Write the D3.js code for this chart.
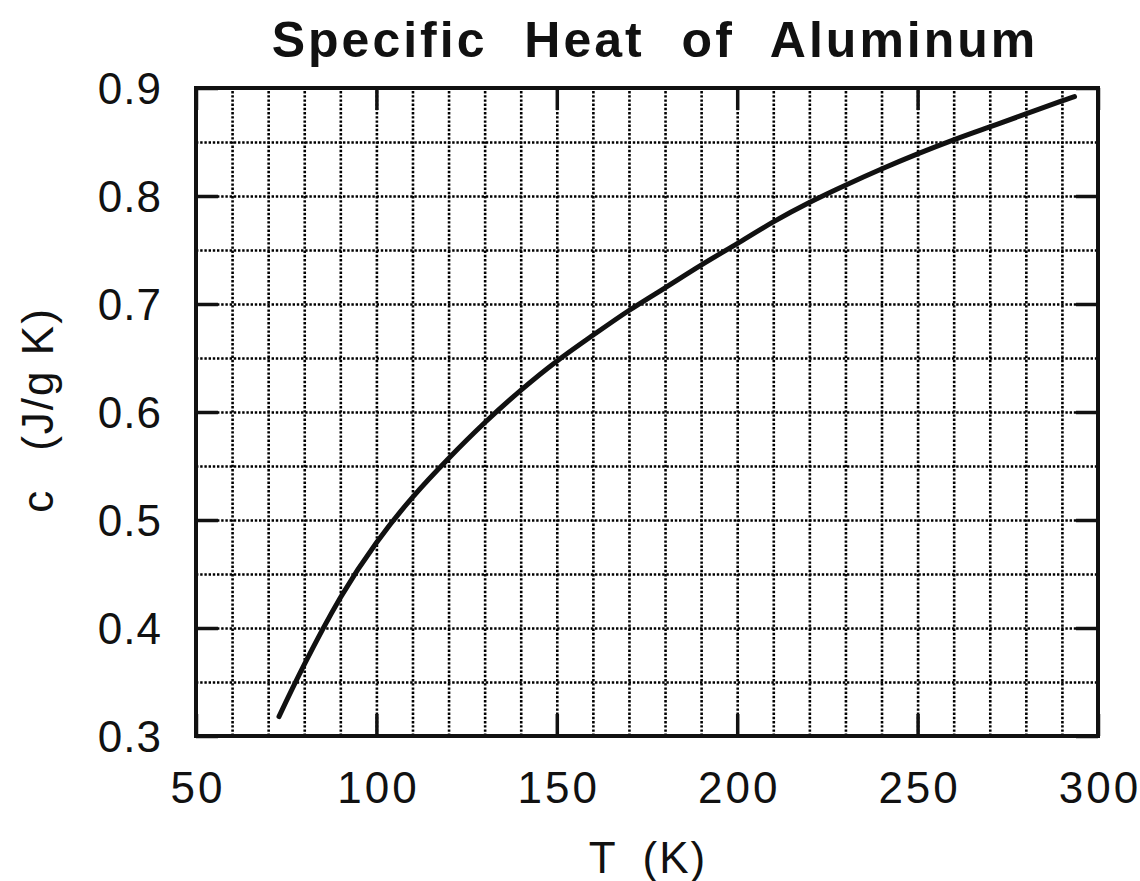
<!DOCTYPE html>
<html>
<head>
<meta charset="utf-8">
<script src="https://cdn.jsdelivr.net/npm/d3@7"></script>
<style>
  html, body { margin: 0; padding: 0; background: #fff; }
  svg { display: block; }
  text { font-family: "Liberation Sans", Arial, Helvetica, sans-serif; fill: #111; }
</style>
</head>
<body>
<svg id="chart" width="1140" height="881"></svg>
<script>
// ---- data ----
const temperatureK = [73, 80, 90, 100, 110, 120, 130, 140, 150, 160, 170, 180, 190, 200, 210, 220, 230, 240, 250, 260, 270, 280, 290, 293.5];
const specificHeat = [0.318, 0.366, 0.428, 0.479, 0.521, 0.557, 0.590, 0.620, 0.647, 0.671, 0.694, 0.715, 0.736, 0.756, 0.776, 0.794, 0.810, 0.825, 0.839, 0.852, 0.864, 0.876, 0.888, 0.892];
const xTickLabels = [50, 100, 150, 200, 250, 300];
const yTickLabels = [0.3, 0.4, 0.5, 0.6, 0.7, 0.8, 0.9];
const xGrid = d3.range(60, 300, 10);
const yGrid = d3.range(7, 18).map(i => i * 0.05);
const titleText = "Specific Heat of Aluminum";
const xTitle = ["T", "(K)"];
const yTitle = ["c", "(J/g K)"];

// ---- layout ----
const svg = d3.select("#chart");
const pLeft = 196, pRight = 1098, pTop = 88, pBottom = 736;
const W = pRight - pLeft, H = pBottom - pTop;
const x = d3.scaleLinear().domain([50, 300]).range([pLeft, pRight]);
const y = d3.scaleLinear().domain([0.3, 0.9]).range([pBottom, pTop]);

// dotted grid
const gx = svg.append("g").attr("transform", `translate(0,${pBottom})`)
  .call(d3.axisBottom(x).tickValues(xGrid).tickSize(-H).tickFormat(""));
const gy = svg.append("g").attr("transform", `translate(${pLeft},0)`)
  .call(d3.axisLeft(y).tickValues(yGrid).tickSize(-W).tickFormat(""));
[gx, gy].forEach(g => {
  g.select(".domain").remove();
  g.selectAll(".tick line").attr("stroke", "#000").attr("stroke-width", 2.6).attr("stroke-dasharray", "2.4,1.8");
});

// major inward ticks
const tickLen = 22;
const majors = [
  svg.append("g").attr("transform", `translate(0,${pBottom})`).call(d3.axisBottom(x).tickValues(xTickLabels).tickSize(-tickLen).tickFormat("")),
  svg.append("g").attr("transform", `translate(0,${pTop})`).call(d3.axisTop(x).tickValues(xTickLabels).tickSize(-tickLen).tickFormat("")),
  svg.append("g").attr("transform", `translate(${pLeft},0)`).call(d3.axisLeft(y).tickValues(yTickLabels).tickSize(-tickLen).tickFormat("")),
  svg.append("g").attr("transform", `translate(${pRight},0)`).call(d3.axisRight(y).tickValues(yTickLabels).tickSize(-tickLen).tickFormat(""))
];
majors.forEach(g => {
  g.select(".domain").remove();
  g.selectAll(".tick line").attr("stroke", "#111").attr("stroke-width", 3.5);
});

// frame
svg.append("rect").attr("x", pLeft).attr("y", pTop).attr("width", W).attr("height", H)
  .attr("fill", "none").attr("stroke", "#111").attr("stroke-width", 4);

// tick labels
const xl = svg.append("g").attr("transform", `translate(0,${pBottom})`)
  .call(d3.axisBottom(x).tickValues(xTickLabels).tickSize(0).tickPadding(36).tickFormat(d3.format("d")));
xl.select(".domain").remove();
xl.selectAll("text").attr("font-size", 44).attr("letter-spacing", 3).attr("dx", 1.5)
  .style("font-family", "'Liberation Sans', Arial, sans-serif").attr("fill", "#111");

const yl = svg.append("g").attr("transform", `translate(${pLeft},0)`)
  .call(d3.axisLeft(y).tickValues(yTickLabels).tickSize(0).tickPadding(34).tickFormat(d3.format(".1f")));
yl.select(".domain").remove();
yl.selectAll("text").attr("font-size", 44).attr("letter-spacing", 1).attr("dy", "0.36em")
  .style("font-family", "'Liberation Sans', Arial, sans-serif").attr("fill", "#111");

// curve
const pts = temperatureK.map((t, i) => [t, specificHeat[i]]);
svg.append("path").datum(pts)
  .attr("d", d3.line().x(d => x(d[0])).y(d => y(d[1])).curve(d3.curveNatural))
  .attr("fill", "none").attr("stroke", "#111").attr("stroke-width", 5)
  .attr("stroke-linecap", "round").attr("stroke-linejoin", "round");

// title
svg.append("text").attr("x", 655).attr("y", 57).attr("text-anchor", "middle")
  .attr("font-size", 50).attr("font-weight", "bold").attr("letter-spacing", 3).attr("word-spacing", 20)
  .text(titleText);

// x title
const xt = svg.append("text").attr("x", 648).attr("y", 873).attr("text-anchor", "middle").attr("font-size", 44);
xt.append("tspan").text(xTitle[0]);
xt.append("tspan").attr("dx", 27).attr("letter-spacing", 2).text(xTitle[1]);

// y title
const yt = svg.append("text").attr("transform", "translate(53,410) rotate(-90)")
  .attr("text-anchor", "middle").attr("font-size", 44);
yt.append("tspan").text(yTitle[0]);
yt.append("tspan").attr("dx", 40).attr("letter-spacing", 2).text(yTitle[1]);
</script>
</body>
</html>
